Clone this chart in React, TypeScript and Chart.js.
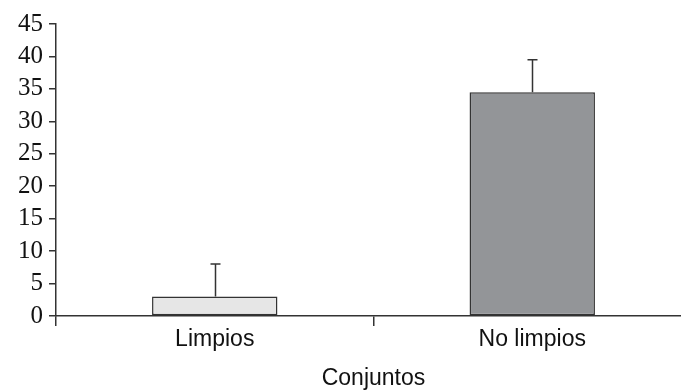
import React, { useEffect, useRef } from "react";
import { Chart, registerables } from "chart.js";

Chart.register(...registerables);

const categories = ["Limpios", "No limpios"];
const values = [3, 34.5];
const errors = [5, 5];
const barColors = ["#e6e6e6", "#939598"];
const yTicks = [0, 5, 10, 15, 20, 25, 30, 35, 40, 45];
const xTitle = "Conjuntos";

const errorBarPlugin = {
  id: "errorBars",
  afterDatasetsDraw(chart: any) {
    const ctx = chart.ctx;
    const meta = chart.getDatasetMeta(0);
    const yScale = chart.scales.y;
    ctx.save();
    ctx.strokeStyle = "#333";
    ctx.lineWidth = 1.5;
    meta.data.forEach((el: any, i: number) => {
      const top = yScale.getPixelForValue(values[i] + errors[i]);
      const x = Math.round(el.x) + 0.5;
      ctx.beginPath();
      ctx.moveTo(x, el.y);
      ctx.lineTo(x, top);
      ctx.moveTo(x - 5, top);
      ctx.lineTo(x + 5, top);
      ctx.stroke();
    });
    ctx.restore();
  },
};

export default function App() {
  const ref = useRef<HTMLCanvasElement>(null);
  useEffect(() => {
    if (!ref.current) return;
    const chart = new Chart(ref.current, {
      type: "bar",
      data: {
        labels: categories,
        datasets: [
          {
            data: values,
            backgroundColor: barColors,
            borderColor: "#333",
            borderWidth: 1.5,
            borderSkipped: false,
            categoryPercentage: 1,
            barPercentage: 0.395,
          },
        ],
      },
      options: {
        animation: false,
        responsive: true,
        maintainAspectRatio: false,
        layout: { padding: { top: 24, left: 0, right: 0, bottom: 0 } },
        plugins: { legend: { display: false }, tooltip: { enabled: false } },
        scales: {
          x: {
            grid: {
              drawOnChartArea: false,
              drawTicks: true,
              tickLength: 10,
              color: "#333",
              lineWidth: 1.5,
              offset: true,
            },
            border: { display: true, color: "#333", width: 1.5 },
            ticks: {
              color: "#111",
              padding: 0,
              font: { family: "'Liberation Sans', Arial, sans-serif", size: 23, lineHeight: 1.2 },
            },
            title: {
              display: true,
              text: xTitle,
              color: "#111",
              padding: { top: 0, bottom: 0 },
              font: { family: "'Liberation Sans', Arial, sans-serif", size: 23, lineHeight: 1.2 },
            },
            afterFit: (s: any) => {
              s.height = 76;
              s.paddingLeft = 0;
              s.paddingRight = 0;
            },
          },
          y: {
            min: 0,
            max: 45,
            afterBuildTicks: (s: any) => {
              s.ticks = yTicks.map((v) => ({ value: v }));
            },
            grid: {
              drawOnChartArea: false,
              drawTicks: true,
              tickLength: 7,
              color: "#333",
              lineWidth: 1.5,
            },
            border: { display: true, color: "#333", width: 1.5 },
            ticks: {
              autoSkip: false,
              color: "#111",
              padding: 6,
              font: { family: "'Liberation Serif', 'Times New Roman', serif", size: 25, lineHeight: 1.2 },
            },
            afterFit: (s: any) => {
              s.width = 56;
              s.paddingTop = 0;
              s.paddingBottom = 0;
            },
          },
        },
      },
      plugins: [errorBarPlugin],
    });
    return () => chart.destroy();
  }, []);
  return (
    <div style={{ position: "fixed", left: 0, top: 0, width: 681, height: 392, overflow: "hidden", background: "#fff" }}>
      <div style={{ position: "relative", width: 691, height: 392 }}>
        <canvas ref={ref} />
      </div>
    </div>
  );
}
